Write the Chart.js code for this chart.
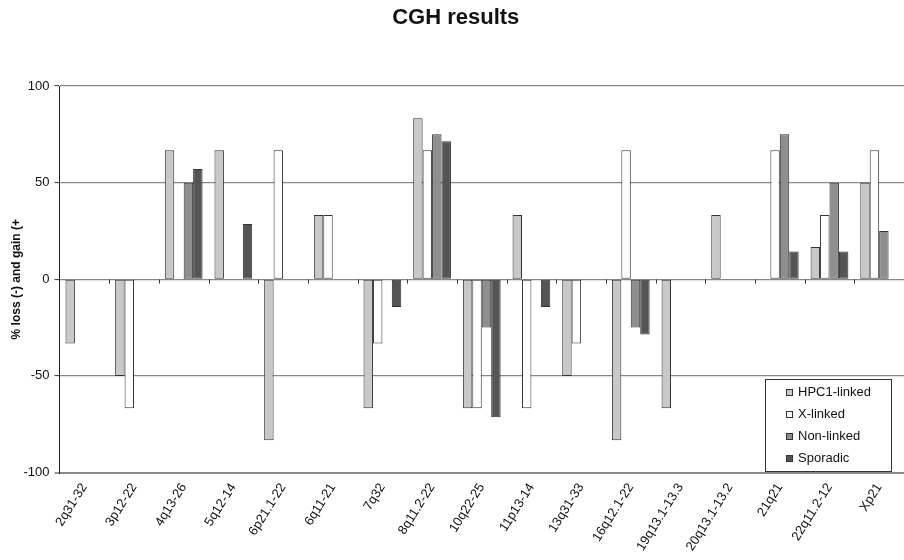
<!DOCTYPE html>
<html>
<head>
<meta charset="utf-8">
<title>CGH results</title>
<script src="https://cdn.jsdelivr.net/npm/chart.js@4.4.1/dist/chart.umd.min.js"></script>
<style>
  html, body { margin: 0; padding: 0; background: #fff; overflow: hidden; }
  #wrap { position: relative; width: 904px; height: 560px; }
</style>
</head>
<body>
<div id="wrap"><canvas id="cgh" width="904" height="560"></canvas></div>
<script>
// Chromosomal regions (x categories)
const categories = ['2q31-32', '3p12-22', '4q13-26', '5q12-14', '6p21.1-22', '6q11-21', '7q32',
  '8q11.2-22', '10q22-25', '11p13-14', '13q31-33', '16q12.1-22', '19q13.1-13.3',
  '20q13.1-13.2', '21q21', '22q11.2-12', 'Xp21'];

// Percentage of tumours with loss (negative) or gain (positive) per group
const hpc1Linked = [-33.3, -50, 66.7, 66.7, -83.3, 33.3, -66.7, 83.3, -66.7, 33.3, -50, -83.3, -66.7, 33.3, null, 16.7, 50];
const xLinked    = [null, -66.7, null, null, 66.7, 33.3, -33.3, 66.7, -66.7, -66.7, -33.3, 66.7, null, null, 66.7, 33.3, 66.7];
const nonLinked  = [null, null, 50, null, null, null, null, 75, -25, null, null, -25, null, null, 75, 50, 25];
const sporadic   = [null, null, 57.1, 28.6, null, null, -14.3, 71.4, -71.4, -14.3, null, -28.6, null, null, 14.3, 14.3, null];

// Y axis tick values
const yTicks = [-100, -50, 0, 50, 100];

const seriesNames = ['HPC1-linked', 'X-linked', 'Non-linked', 'Sporadic'];
const seriesValues = [hpc1Linked, xLinked, nonLinked, sporadic];
const seriesColors = ['#c8c8c8', '#ffffff', '#8e8e8e', '#555555'];

const FONT = "'Liberation Sans', Arial, Helvetica, sans-serif";

// Legend box drawn inside the plot area, lower right
const insideLegend = {
  id: 'insideLegend',
  afterDraw(chart) {
    const ctx = chart.ctx;
    const box = { left: 765.5, top: 379.5, width: 126, height: 92 };
    ctx.save();
    ctx.fillStyle = '#ffffff';
    ctx.fillRect(box.left, box.top, box.width, box.height);
    ctx.strokeStyle = '#333';
    ctx.lineWidth = 1;
    ctx.strokeRect(box.left, box.top, box.width, box.height);
    ctx.font = '13px ' + FONT;
    ctx.textBaseline = 'middle';
    ctx.textAlign = 'left';
    chart.data.datasets.forEach((ds, i) => {
      const cy = Math.round(box.top + 12 + i * 22.2);
      ctx.fillStyle = ds.backgroundColor;
      ctx.fillRect(786.5, cy - 2.5, 6, 6);
      ctx.strokeStyle = '#333';
      ctx.strokeRect(786.5, cy - 2.5, 6, 6);
      ctx.fillStyle = '#111';
      ctx.fillText(ds.label, 798, cy + 0.5);
    });
    ctx.restore();
  }
};

// Small tick marks on the zero line between categories
const zeroTicks = {
  id: 'zeroTicks',
  afterDatasetsDraw(chart) {
    const x = chart.scales.x, y = chart.scales.y;
    const y0 = Math.round(y.getPixelForValue(0)) + 0.5;
    const ctx = chart.ctx;
    ctx.save();
    ctx.strokeStyle = '#333';
    ctx.lineWidth = 1;
    ctx.beginPath();
    for (let i = 1; i < categories.length; i++) {
      const px = Math.round((x.getPixelForValue(i - 1) + x.getPixelForValue(i)) / 2) + 0.5;
      ctx.moveTo(px, y0);
      ctx.lineTo(px, y0 + 4);
    }
    ctx.stroke();
    ctx.restore();
  }
};

new Chart(document.getElementById('cgh'), {
  type: 'bar',
  data: {
    labels: categories,
    datasets: seriesNames.map((name, i) => ({
      label: name,
      data: seriesValues[i],
      backgroundColor: seriesColors[i],
      borderColor: '#333333',
      borderWidth: 1,
      borderSkipped: false,
      categoryPercentage: 0.76,
      barPercentage: 1.0
    }))
  },
  options: {
    responsive: false,
    animation: false,
    devicePixelRatio: 1,
    layout: { padding: { top: 0, left: 0, right: -7.5, bottom: 0 } },
    plugins: {
      legend: { display: false },
      tooltip: { enabled: false },
      title: {
        display: true,
        text: 'CGH results',
        color: '#111',
        font: { family: FONT, size: 22, weight: 'bold' },
        padding: { top: 5, bottom: 54.6 }
      }
    },
    scales: {
      x: {
        type: 'category',
        grid: { display: false, drawTicks: false },
        border: { display: false },
        ticks: {
          color: '#111',
          font: { family: FONT, size: 13 },
          minRotation: 58,
          maxRotation: 58,
          autoSkip: false,
          padding: 8
        },
        afterFit(scale) { scale.height = 87.5; }
      },
      y: {
        min: -100,
        max: 100,
        afterBuildTicks(scale) { scale.ticks = yTicks.map(v => ({ value: v })); },
        grid: {
          color: '#888888',
          lineWidth: ctx => (ctx.tick && ctx.tick.value === -100 ? 2 : 1.2),
          tickLength: 5,
          tickColor: '#333333',
          tickWidth: 1
        },
        border: { display: true, color: '#222222', width: 1 },
        ticks: {
          color: '#111',
          font: { family: FONT, size: 13 },
          padding: 5
        },
        title: {
          display: true,
          text: '% loss (-) and gain (+',
          color: '#111',
          font: { family: FONT, size: 12, weight: 'bold' },
          padding: { top: 9, bottom: 0 }
        },
        afterFit(scale) { scale.width = 59.5; }
      }
    }
  },
  plugins: [zeroTicks, insideLegend]
});
</script>
</body>
</html>
